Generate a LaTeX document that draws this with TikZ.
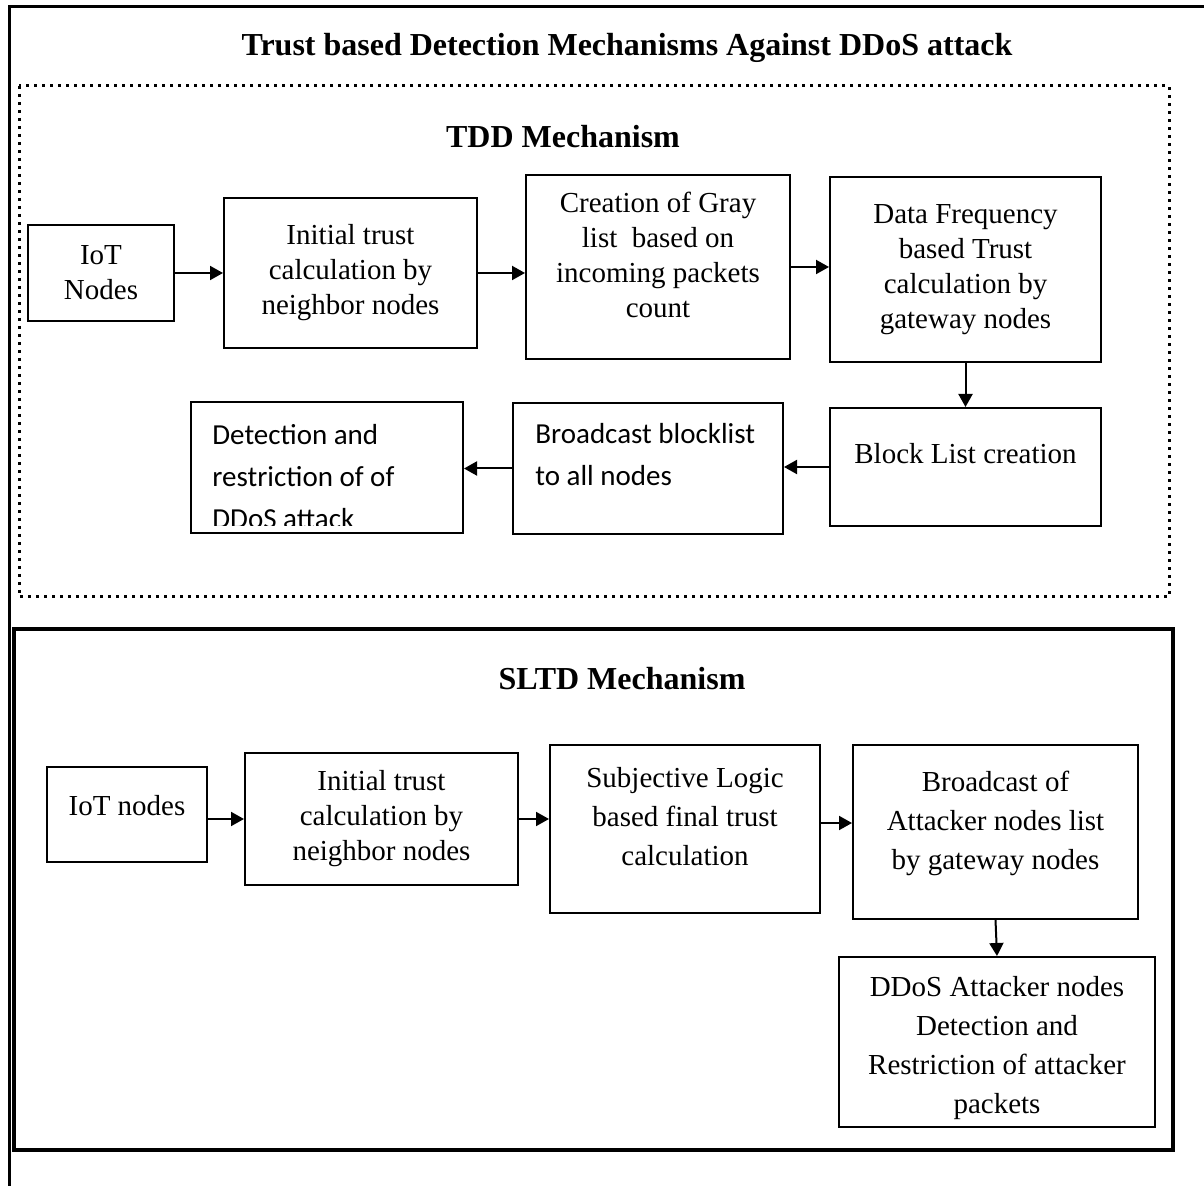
\documentclass[tikz,border=0pt]{standalone}
\usepackage{fontspec}
\setmainfont{Liberation Serif}
\newfontfamily\calibri{Carlito}
\usetikzlibrary{arrows.meta,positioning}

\begin{document}
\begin{tikzpicture}[x=0.5pt,y=-0.5pt,
  box/.style={draw,line width=1pt,align=center,inner sep=0pt,
    font=\fontsize{14.5}{17.5}\selectfont},
  wbox/.style={box,font=\fontsize{14.5}{19.5}\selectfont},
  cbox/.style={align=left,inner sep=0pt,anchor=north west,
    font=\calibri\fontsize{14.5}{21}\selectfont},
  arr/.style={line width=1pt,-{Triangle[length=6.5pt,width=7pt]}},
  head/.style={font=\fontsize{16}{19}\selectfont\bfseries}]
\useasboundingbox (0,0) rectangle (1204,1186);
\draw[line width=1.5pt] (9,1186) -- (9,7) -- (1204,7);
\draw[line width=1.5pt,dash pattern=on 1.5pt off 2.5pt] (19,86) rectangle (1169,597);
\draw[line width=1.75pt] (14,629) rectangle (1173,1150);

\node[head] (title) at (627,48) {Trust based Detection Mechanisms Against DDoS attack};
\node[head] (tddtitle) at (563,137) {TDD Mechanism};
\node[head] (sltdtitle) at (622,679) {SLTD Mechanism};

\node[box,minimum width=73pt,minimum height=48pt] (iot1) at (101,273) {IoT\\Nodes};
\node[box,minimum width=126.5pt,minimum height=75pt] (init1) at (350.5,273) {Initial trust\\calculation by\\neighbor nodes};
\node[box,minimum width=132pt,minimum height=92pt] (gray) at (658,267) {Creation of Gray\\list\ \ based on\\incoming packets\\count\\[-5.5pt]};
\node[box,minimum width=135.5pt,minimum height=92.5pt] (freq) at (965.5,269.5) {Data Frequency\\based Trust\\calculation by\\gateway nodes};
\node[box,minimum width=135.5pt,minimum height=59pt] (block) at (965.5,467) {Block List creation\\[-3.5pt]};
\node[box,minimum width=135pt,minimum height=65.5pt] (bcast1) at (648,468.5) {};
\node[box,minimum width=136pt,minimum height=65.5pt] (detect) at (327,467.5) {};
\node[cbox] (bcast1txt) at (535,423) {Broadcast blocklist\\to all nodes};
\begin{scope}
\clip ([yshift=4pt]detect.south west) rectangle (detect.north east);
\node[cbox] (detecttxt) at (212,424) {Detection and\\restriction of of\\DDoS attack};
\end{scope}

\draw[arr] (iot1.east) -- (iot1.east -| init1.west);
\draw[arr] (init1.east) -- (init1.east -| gray.west);
\draw[arr] (gray.east) -- (gray.east -| freq.west);
\draw[arr] (freq.south) -- (block.north);
\draw[arr] (block.west) -- (block.west -| bcast1.east);
\draw[arr] (bcast1.west) -- (bcast1.west -| detect.east);

\node[wbox,minimum width=80pt,minimum height=47.5pt] (iot2) at (127,814.5) {IoT nodes\\[-10pt]};
\node[box,minimum width=136.5pt,minimum height=66pt] (init2) at (381.5,819) {Initial trust\\calculation by\\neighbor nodes};
\node[wbox,minimum width=135pt,minimum height=84pt] (subj) at (685,829) {Subjective Logic\\based final trust\\calculation\\[-6.5pt]};
\node[wbox,minimum width=142.5pt,minimum height=87pt] (bcast2) at (995.5,832) {Broadcast of\\Attacker nodes list\\by gateway nodes\\[-8pt]};
\node[wbox,minimum width=158pt,minimum height=85pt] (ddos) at (997,1042) {\rule{0pt}{16pt}DDoS Attacker nodes\\Detection and\\Restriction of attacker\\packets};

\draw[arr] (iot2.east |- init2) -- (init2.west);
\draw[arr] (init2.east) -- (init2.east -| subj.west);
\draw[arr] ([yshift=3pt]subj.east) -- ([yshift=3pt]subj.east -| bcast2.west);
\draw[arr] (bcast2.south) -- (ddos.north);
\end{tikzpicture}
\end{document}
